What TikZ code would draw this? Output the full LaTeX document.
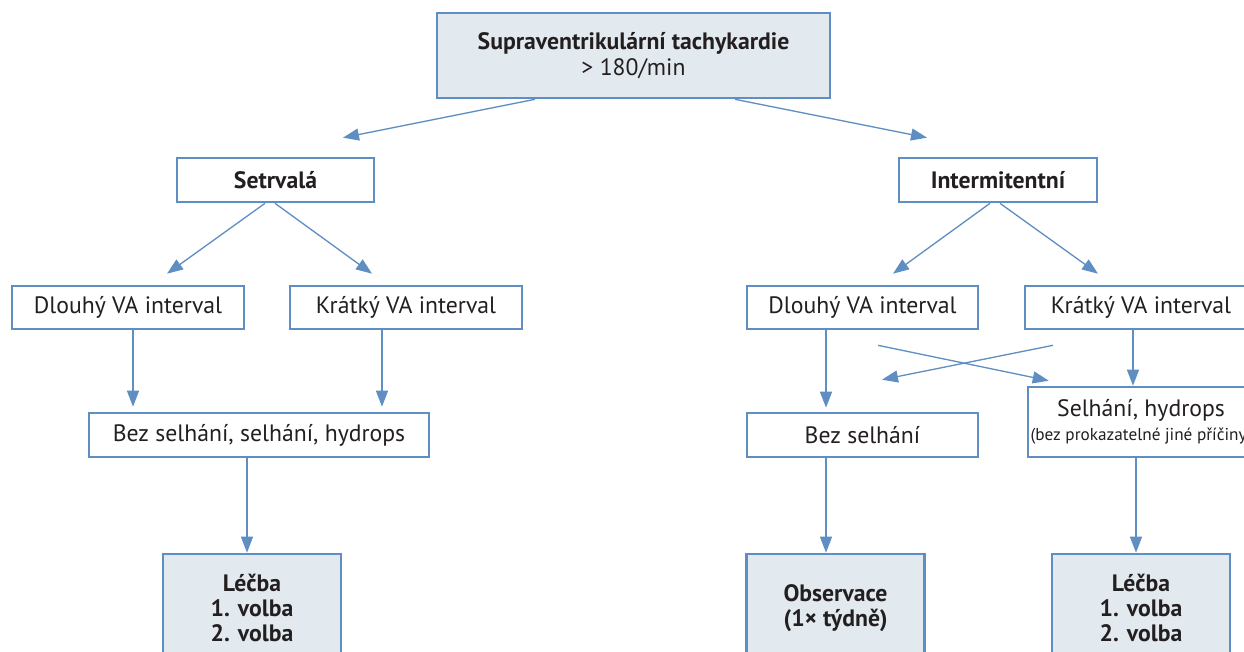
\documentclass[tikz,border=0pt]{standalone}
\usepackage{fontspec}
\setmainfont{PT Sans}
\usetikzlibrary{calc,arrows.meta}

\definecolor{svtblue}{RGB}{94,142,194}
\definecolor{svtfill}{RGB}{226,234,239}
\definecolor{svttext}{RGB}{35,31,32}

\tikzset{
	plainbox/.style={draw=svtblue, line width=1.5pt, fill=white, inner sep=0pt, align=center, text=svttext, font=\fontsize{13.5}{15}\selectfont},
	shadebox/.style={plainbox, fill=svtfill, font=\fontsize{13.5}{14.5}\selectfont\bfseries},
	arr/.style={draw=svtblue, line width=0.75pt, -{Triangle[length=0.32cm,width=0.24cm]}}
}

\begin{document}
\begin{tikzpicture}[x=0.02cm, y=-0.02cm]
			%%%%% START %%%%%
			
			\useasboundingbox (0, 0) rectangle (1244, 652);
			\clip (0, 0) rectangle (1244, 652);
			
			\node[shadebox, minimum width=7.86cm, minimum height=1.7cm] (svt) at (633.5, 55.5) {Supraventrikulární tachykardie\\ \mdseries > 180/min};
			
			\node[plainbox, minimum width=3.94cm, minimum height=0.88cm, font=\fontsize{13.5}{15}\selectfont\bfseries] (setr) at (275.5, 180) {Setrvalá};
			\node[plainbox, minimum width=3.96cm, minimum height=0.88cm, font=\fontsize{13.5}{15}\selectfont\bfseries] (inter) at (998, 180) {Intermitentní};
			
			\node[plainbox, minimum width=4.64cm, minimum height=0.86cm] (dl1) at (128, 307.5) {Dlouhý VA interval};
			\node[plainbox, minimum width=4.64cm, minimum height=0.86cm] (kr1) at (406, 307.5) {Krátký VA interval};
			\node[plainbox, minimum width=4.62cm, minimum height=0.86cm] (dl2) at (862.5, 307.5) {Dlouhý VA interval};
			\node[plainbox, minimum width=4.64cm, minimum height=0.86cm] (kr2) at (1141, 307.5) {Krátký VA interval};
			
			\node[plainbox, minimum width=6.8cm, minimum height=0.88cm] (bez1) at (259, 435) {Bez selhání, selhání, hydrops};
			\node[plainbox, minimum width=4.62cm, minimum height=0.88cm] (bez2) at (862.5, 435) {Bez selhání};
			\node[plainbox, minimum width=4.52cm, minimum height=1.4cm] (selh) at (1141, 422) {Selhání, hydrops\\[-1pt] {\fontsize{9.8}{12}\selectfont (bez prokazatelné jiné příčiny)}};
			
			\node[shadebox, minimum width=3.56cm, minimum height=2.16cm] (lecba1) at (252, 608) {Léčba\\ 1. volba\\ 2. volba};
			\node[shadebox, minimum width=3.56cm, minimum height=2.16cm] (obs) at (835.5, 608) {Observace\\ (1× týdně)};
			\node[shadebox, minimum width=3.56cm, minimum height=2.16cm] (lecba2) at (1141, 608) {Léčba\\ 1. volba\\ 2. volba};
			
			% first split
			\draw[arr] ($(svt.south)+(-98.5, 0)$) -- ($(setr.north)+(67.5, -19)$);
			\draw[arr] ($(svt.south)+(101.5, 0)$) -- ($(inter.north)+(-71, -19)$);
			
			\draw[arr] ($(setr.south)+(-10.5, 0)$) -- ($(dl1.north)+(39, -11)$);
			\draw[arr] ($(setr.south)+(-0.5, 0)$) -- ($(kr1.north)+(-34, -11)$);
			\draw[arr] ($(inter.south)+(-8, 0)$) -- ($(dl2.north)+(30.5, -11)$);
			\draw[arr] ($(inter.south)+(2, 0)$) -- ($(kr2.north)+(-43, -11)$);
			
			% left branch
			\draw[arr, shorten >=0.1cm] ($(dl1.south)+(5, 0)$) coordinate (a1) -- (a1 |- bez1.north);
			\draw[arr, shorten >=0.1cm] ($(kr1.south)+(-24, 0)$) coordinate (a2) -- (a2 |- bez1.north);
			\draw[arr] ($(bez1.south)+(-12, 0)$) coordinate (a3) -- (a3 |- lecba1.north);
			
			% right branch
			\draw[arr, shorten >=0.08cm] ($(dl2.south)+(-36.5, 0)$) coordinate (b1) -- (b1 |- bez2.north);
			\draw[arr] ($(kr2.south)+(-8, 0)$) coordinate (b2) -- (b2 |- selh.north);
			\draw[arr] ($(dl2.south)+(15.5, 15)$) -- ($(selh.north west)+(22, -5)$);
			\draw[arr] ($(kr2.south)+(-88, 15)$) -- ($(bez2.north)+(19.5, -32)$);
			\draw[arr] ($(bez2.south)+(-36.5, 0)$) coordinate (b3) -- (b3 |- obs.north);
			\draw[arr] ($(selh.south)+(-5, 0)$) coordinate (b4) -- (b4 |- lecba2.north);
			
			%%%%% END %%%%%
\end{tikzpicture}
\end{document}
